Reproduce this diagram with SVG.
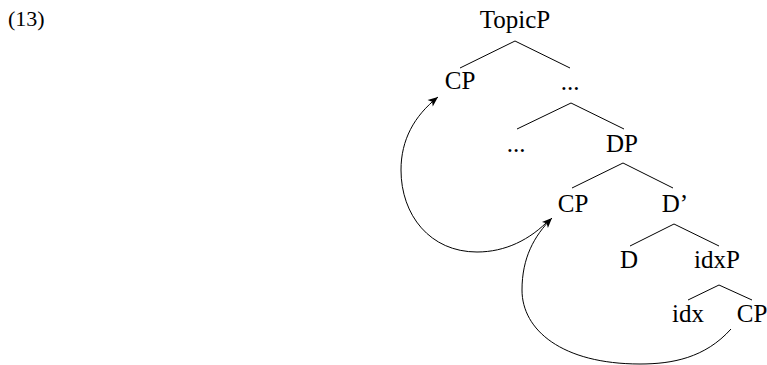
<svg xmlns="http://www.w3.org/2000/svg" width="767" height="365" viewBox="0 0 767 365">
<style>
  text { font-family: "Liberation Serif", "Times New Roman", serif; font-size: 25px; fill: #000; text-anchor: middle; }
  .edge { stroke: #000; stroke-width: 1; fill: none; }
  .mv { stroke: #000; stroke-width: 1; fill: none; marker-end: url(#arr); }
</style>
<defs>
  <marker id="arr" markerUnits="userSpaceOnUse" viewBox="-11 -5 12 10" refX="0" refY="0" markerWidth="12" markerHeight="10" orient="auto">
    <path d="M0,0 L-10,-4.2 L-7.5,0 L-10,4.2 Z" fill="#000"/>
  </marker>
</defs>
<text x="8" y="26" style="text-anchor:start;font-size:22px">(13)</text>
<g id="edges">
  <path class="edge" d="M460,68 L515,41 L570,68"/>
  <path class="edge" d="M517,129 L571,103 L624,129"/>
  <path class="edge" d="M572,188 L623,163 L673,188"/>
  <path class="edge" d="M630,246 L674,224 L719,246"/>
  <path class="edge" d="M688,300 L719,285 L752,300"/>
</g>
<g id="n-topicp"><text x="515" y="28">TopicP</text></g>
<g id="n-cp1"><text x="460" y="89">CP</text></g>
<g id="n-dots1"><text x="570" y="90">...</text></g>
<g id="n-dots2"><text x="516" y="152">...</text></g>
<g id="n-dp"><text x="622" y="152">DP</text></g>
<g id="n-cp2"><text x="573" y="212">CP</text></g>
<g id="n-dbar"><text x="675" y="212">D’</text></g>
<g id="n-d"><text x="629" y="268">D</text></g>
<g id="n-idxp"><text x="717" y="268">idxP</text></g>
<g id="n-idx"><text x="688" y="322">idx</text></g>
<g id="n-cp3"><text x="752" y="322">CP</text></g>
<g id="connectors">
  <path class="mv" d="M731,329 C705,358 672,364 640,364 C562,364 522,330 522,290 C522,258 534,236 552,218"/>
  <path class="mv" d="M550,219 C530,240 505,252 477,252 C430,252 401,215 401,170 C401,140 414,116 438,97"/>
</g>
</svg>
